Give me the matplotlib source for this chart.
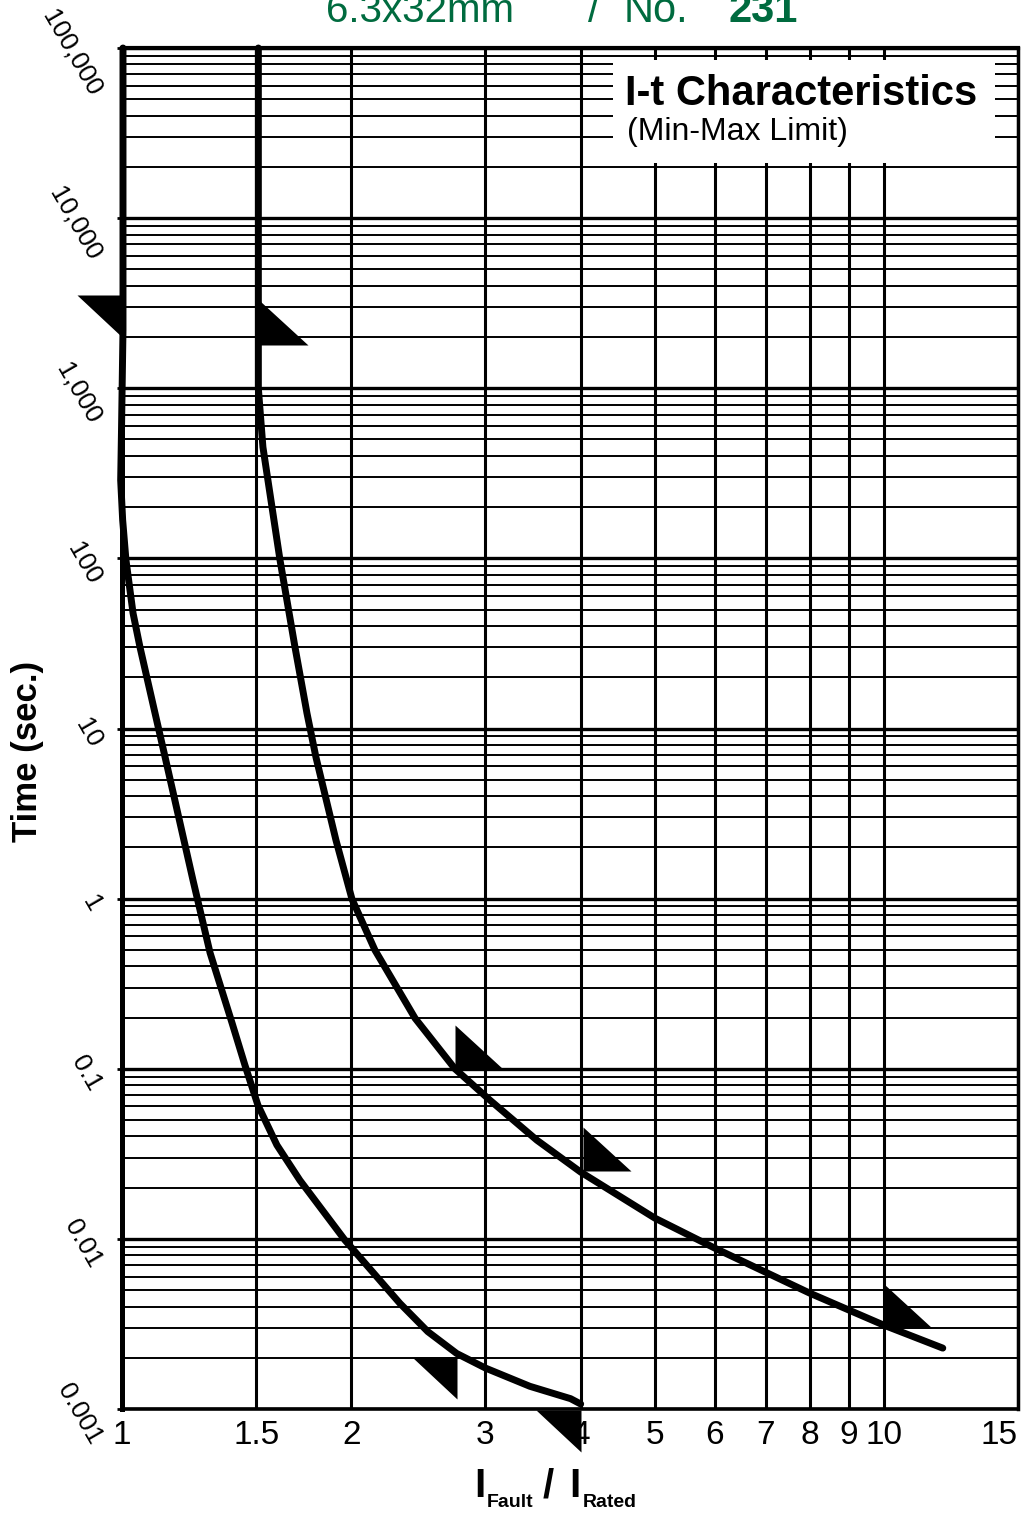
import matplotlib
matplotlib.use("Agg")
import matplotlib.pyplot as plt
from matplotlib.path import Path
from matplotlib.patches import Rectangle
from matplotlib.transforms import ScaledTranslation

# ---------------- data ----------------
x_ticks = [1, 1.5, 2, 3, 4, 5, 6, 7, 8, 9, 10, 15]
x_labels = ["1", "1.5", "2", "3", "4", "5", "6", "7", "8", "9", "10", "15"]
y_ticks = [0.001, 0.01, 0.1, 1, 10, 100, 1000, 10000, 100000]
y_labels = ["0.001", "0.01", "0.1", "1", "10", "100", "1,000", "10,000", "100,000"]

# minimum limit curve
min_x = [1.003, 1.003, 0.9985, 0.996, 1.002, 1.012, 1.034, 1.056, 1.105, 1.139,
         1.239, 1.305, 1.395, 1.450, 1.508, 1.597, 1.712, 1.962, 2.316, 2.52,
         2.75, 3.0, 3.43, 3.88, 4.0]
min_t = [100000, 2200, 568, 288, 168, 98, 47.6, 30, 12.3, 6.8,
         1.29, 0.48, 0.185, 0.105, 0.0611, 0.0356, 0.0221, 0.00982, 0.00418, 0.00285,
         0.00212, 0.00174, 0.00136, 0.00115, 0.00107]

# maximum limit curve
max_x = [1.51, 1.51, 1.531, 1.612, 1.687, 1.749, 1.797, 1.909, 2.004, 2.148,
         2.425, 2.735, 3.04, 3.505, 4.0, 5.006, 6.0, 8.0, 10.0, 11.95]
max_t = [100000, 1000, 451, 98, 30, 12.3, 6.79, 2.21, 0.993, 0.498,
         0.198, 0.1, 0.0654, 0.038, 0.0247, 0.01324, 0.00882, 0.00479, 0.00311, 0.00228]

# arrow (triangle) markers
min_mark_x = [1.0, 2.75, 4.0]
min_mark_t = [3530, 0.00202, 0.00098]
max_mark_x = [1.517, 2.74, 4.03, 10.0]
max_mark_t = [1795, 0.1, 0.025, 0.003]

SANS = "Liberation Sans"
plt.rcParams["font.family"] = [SANS, "DejaVu Sans"]

W, H = 1023, 1514
fig = plt.figure(figsize=(W / 100, H / 100), dpi=100)
fig.patch.set_facecolor("white")


def fx(px):
    return px / W


def fy(py):
    return 1 - py / H


ax = fig.add_axes([fx(122), fy(1409), 896 / W, 1361 / H])
ax.set_xscale("log")
ax.set_yscale("log")
ax.set_xlim(1, 15)
ax.set_ylim(0.001, 100000)
ax.set_axisbelow(True)

# ticks & grid
ax.set_xticks(x_ticks)
ax.set_xticklabels(x_labels)
ax.xaxis.set_minor_locator(matplotlib.ticker.NullLocator())
ax.set_yticks(y_ticks)
ax.set_yticklabels(y_labels)
ax.yaxis.set_minor_locator(matplotlib.ticker.LogLocator(base=10, subs=range(2, 10), numticks=100))
ax.yaxis.set_minor_formatter(matplotlib.ticker.NullFormatter())

ax.grid(True, which="major", axis="x", color="black", lw=2.2)
ax.grid(True, which="major", axis="y", color="black", lw=2.4)
ax.grid(True, which="minor", axis="y", color="black", lw=1.4)

ax.tick_params(axis="x", which="both", length=0, pad=8)
ax.tick_params(axis="y", which="major", length=3.6, width=2, pad=8, direction="out")
ax.tick_params(axis="y", which="minor", length=0)

for lab in ax.get_xticklabels():
    lab.set_fontsize(24)
ax.get_xticklabels()[-1].set_ha("right")

shift_down = ScaledTranslation(0, -5 / 100, fig.dpi_scale_trans)
for lab in ax.get_yticklabels():
    lab.set_fontsize(19)
    lab.set_rotation(-60)
    lab.set_ha("right")
    lab.set_va("center")
    lab.set_transform(lab.get_transform() + shift_down)

for side, lw in (("left", 3.6), ("bottom", 2.6), ("top", 3.0), ("right", 2.5)):
    ax.spines[side].set_linewidth(lw)
    ax.spines[side].set_color("black")

# white title box
ax.add_patch(Rectangle((0.548, 0.9155), 0.9743 - 0.548, 0.9912 - 0.9155,
                       transform=ax.transAxes, facecolor="white", edgecolor="none", zorder=1))

# curves
ax.plot(min_x, min_t, color="black", lw=5, solid_capstyle="round",
        solid_joinstyle="round", clip_on=False, zorder=3)
ax.plot(max_x, max_t, color="black", lw=5, solid_capstyle="round",
        solid_joinstyle="round", clip_on=False, zorder=3)

# triangle markers
tri_min = Path([(0, 0), (-0.5, 0), (0, -0.4667), (0, 0)],
               [Path.MOVETO, Path.LINETO, Path.LINETO, Path.CLOSEPOLY])
tri_max = Path([(0, 0), (0, 0.4583), (0.5, 0), (0, 0)],
               [Path.MOVETO, Path.LINETO, Path.LINETO, Path.CLOSEPOLY])
ax.plot(min_mark_x, min_mark_t, linestyle="none", marker=tri_min, markersize=64.8,
        markerfacecolor="black", markeredgewidth=0, clip_on=False, zorder=4)
ax.plot(max_mark_x, max_mark_t, linestyle="none", marker=tri_max, markersize=69.1,
        markerfacecolor="black", markeredgewidth=0, clip_on=False, zorder=4)

# box text
fig.text(fx(625), fy(105), "I-t Characteristics", fontweight="bold",
         fontsize=30, ha="left", va="baseline", zorder=5)
fig.text(fx(627), fy(140), "(Min-Max Limit)",
         fontsize=23, ha="left", va="baseline", zorder=5)

# title (partially cut at the top, as in the reference)
GREEN = "#006B3F"
fig.text(fx(326), fy(22), "6.3x32mm", fontsize=29, color=GREEN, ha="left", va="baseline")
fig.text(fx(588), fy(22), "/", fontsize=30, color=GREEN, ha="left", va="baseline")
fig.text(fx(624), fy(22), "No.", fontsize=30, color=GREEN, ha="left", va="baseline")
fig.text(fx(729), fy(22), "231", fontsize=30, fontweight="bold", color=GREEN,
         ha="left", va="baseline")

# axis labels
fig.text(fx(28), fy(751), "Time (sec.)", fontweight="bold",
         fontsize=25, rotation=90, ha="center", va="center")
fig.text(fx(474), fy(1497), "I", fontweight="bold", fontsize=29, ha="left", va="baseline")
fig.text(fx(487), fy(1507), "Fault", fontweight="bold", fontsize=14, ha="left", va="baseline")
fig.text(fx(543), fy(1497), "/", fontweight="bold", fontsize=29, ha="left", va="baseline")
fig.text(fx(569), fy(1497), "I", fontweight="bold", fontsize=29, ha="left", va="baseline")
fig.text(fx(583), fy(1507), "Rated", fontweight="bold", fontsize=14, ha="left", va="baseline")

fig.savefig("out.png", dpi=100, facecolor="white")
